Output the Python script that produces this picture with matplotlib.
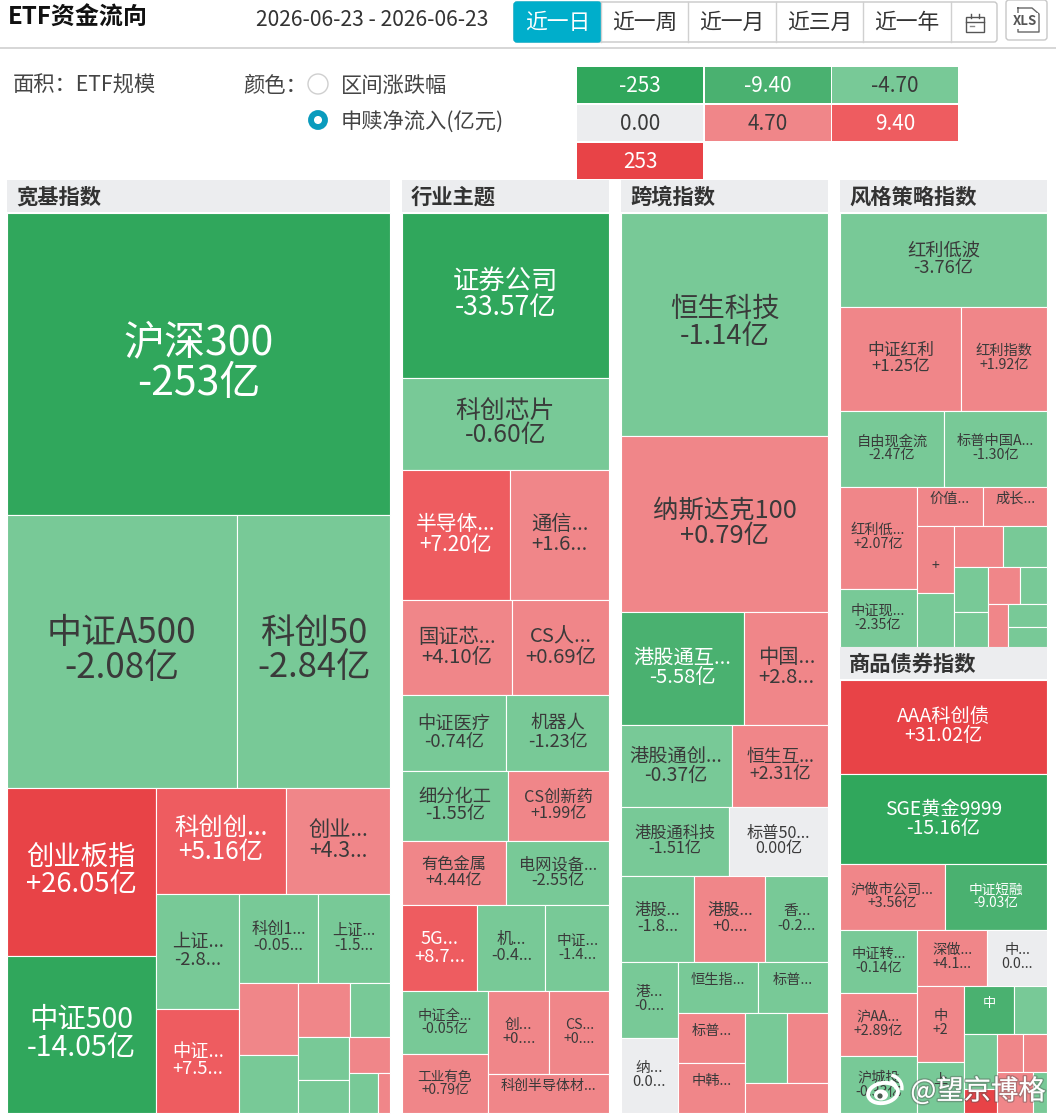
import numpy as np
import matplotlib
matplotlib.use('Agg')
import matplotlib.pyplot as plt
import matplotlib.patheffects as pe
from matplotlib.patches import Rectangle, FancyBboxPatch, Circle, Ellipse, Arc

plt.rcParams['font.family'] = ['Noto Sans CJK SC', 'DejaVu Sans']

# Legend bins (亿元) and their colours
legend_values = [-253, -9.40, -4.70, 0.00, 4.70, 9.40, 253]
legend_labels = ['-253', '-9.40', '-4.70', '0.00', '4.70', '9.40', '253']
legend_colors = ['#30a75c', '#4ab170', '#78c997', '#ecedef', '#f08689', '#ee5c60', '#e84347']

# 宽基指数
kuanji_names = ['沪深300', '中证A500', '科创50', '创业板指', '中证500', '科创创...', '创业...', '上证...', '中证...',
                '科创1...', '上证...', '', '', '', '', '', '', '', '', '']
kuanji_scale = [1159, 626, 416, 251, 235, 138, 111, 95, 87, 69, 64, 42, 34, 28, 22, 22, 17, 15, 12, 5]
kuanji_flow = [-253, -2.08, -2.84, 26.05, -14.05, 5.16, 4.31, -2.83, 7.52, -0.05, -1.52,
               1.2, -0.8, 1.1, -0.6, -0.5, -0.4, 0.9, -0.3, 0.2]
kuanji_text = ['-253亿', '-2.08亿', '-2.84亿', '+26.05亿', '-14.05亿', '+5.16亿', '+4.3...', '-2.8...', '+7.5...',
               '-0.05...', '-1.5...', '', '', '', '', '', '', '', '', '']
kuanji_rows = [1, 2, 2, 2, 2, 2, 2, 2, 2, 1, 1, 1]
kuanji_font = [40.5, 34.5, 34, 27, 28, 24, 21, 18, 18, 16, 15, 0, 0, 0, 0, 0, 0, 0, 0, 0]

# 行业主题
hangye_names = ['证券公司', '科创芯片', '半导体...', '通信...', '国证芯...', 'CS人...', '中证医疗', '机器人', '细分化工',
                'CS创新药', '有色金属', '电网设备...', '5G...', '机...', '中证...', '中证全...', '工业有色', '创...',
                'CS...', '科创半导体材...']
hangye_scale = [341, 190, 141, 129, 104, 92, 79, 78, 74, 70, 67, 66, 65, 58, 55, 54, 51, 50, 49, 48]
hangye_flow = [-33.57, -0.60, 7.20, 1.63, 4.10, 0.69, -0.74, -1.23, -1.55, 1.99, 4.44, -2.55, 8.72, -0.42, -1.44,
               -0.05, 0.79, 0.31, 0.27, 0.55]
hangye_text = ['-33.57亿', '-0.60亿', '+7.20亿', '+1.6...', '+4.10亿', '+0.69亿', '-0.74亿', '-1.23亿', '-1.55亿',
               '+1.99亿', '+4.44亿', '-2.55亿', '+8.7...', '-0.4...', '-1.4...', '-0.05亿', '+0.79亿', '+0....',
               '+0....', '']
hangye_rows = [1, 1, 2, 2, 2, 2, 2, 3, 2, 2, 1]
hangye_font = [26, 24.5, 20.5, 20, 20, 20, 18, 18, 18, 16, 16, 16, 18, 16, 14.5, 14, 13.5, 14.5, 14, 13.8]

# 跨境指数
kuajing_names = ['恒生科技', '纳斯达克100', '港股通互...', '中国...', '港股通创...', '恒生互...', '港股通科技', '标普50...',
                 '港股...', '港股...', '香...', '港...', '纳...', '恒生指...', '标普...', '标普...', '中韩...', '', '', '']
kuajing_scale = [462, 365, 139, 95, 91, 79, 74, 68, 63, 61, 54, 43, 43, 41, 36, 34, 34, 29, 29, 25]
kuajing_flow = [-1.14, 0.79, -5.58, 2.83, -0.37, 2.31, -1.51, 0.00, -1.84, 0.36, -0.25, -0.41, 0.00, -0.66, -0.32,
                0.48, 0.22, -0.2, 0.3, 0.1]
kuajing_text = ['-1.14亿', '+0.79亿', '-5.58亿', '+2.8...', '-0.37亿', '+2.31亿', '-1.51亿', '0.00亿', '-1.8...',
                '+0....', '-0.2...', '-0....', '0.0...', '', '', '', '', '', '', '']
kuajing_rows = [1, 1, 2, 2, 2, 3, 2, 2, 2, 2, 1]
kuajing_font = [27, 25, 20, 20, 19, 17.5, 16, 16, 16, 16, 14.5, 14.5, 14.5, 14, 14, 14, 14, 0, 0, 0]

# 风格策略指数
fengge_names = ['红利低波', '中证红利', '红利指数', '自由现金流', '标普中国A...', '红利低...', '中证现...', '价值...', '成长...',
                '', '', '', '', '', '', '', '', '', '', '']
fengge_scale = [195, 126, 89, 79, 78, 78, 45, 26, 25, 25, 20, 20, 18, 15, 12, 12, 10, 9, 9, 8]
fengge_flow = [-3.76, 1.25, 1.92, -2.47, -1.30, 2.07, -2.35, 0.62, 0.51, 0.44, -0.3, 0.35, -0.4, -0.2, -0.2, 0.15,
               -0.1, 0.12, -0.1, -0.1]
fengge_text = ['-3.76亿', '+1.25亿', '+1.92亿', '-2.47亿', '-1.30亿', '+2.07亿', '-2.35亿', '', '', '+', '', '', '', '',
               '', '', '', '', '', '']
fengge_rows = [1, 2, 2, 2, 2, 2, 2, 2, 2, 1, 1, 1]
fengge_font = [18, 16.5, 14, 14, 14, 14, 14, 14, 14, 14, 0, 0, 0, 0, 0, 0, 0, 0, 0, 0]

# 商品债券指数
shangpin_names = ['AAA科创债', 'SGE黄金9999', '沪做市公司...', '中证短融', '中证转...', '沪AA...', '沪城投', '深做...', '中...',
                  '中', '上', '中', '', '', '', '', '', '', '']
shangpin_scale = [196, 185, 69, 67, 49, 49, 44, 39, 34, 35, 24, 24, 16, 18, 8, 10, 9, 15, 6]
shangpin_flow = [31.02, -15.16, 3.56, -9.03, -0.14, 2.89, -0.33, 4.12, 0.00, 2.35, -0.2, -5.1, -0.6, -0.4, 10.2,
                 0.5, 0.4, 0.7, -0.1]
shangpin_text = ['+31.02亿', '-15.16亿', '+3.56亿', '-9.03亿', '-0.14亿', '+2.89亿', '-0.33亿', '+4.1...', '0.0...',
                 '+2', '-', '', '', '', '', '', '', '', '']
shangpin_rows = [1, 1, 2, 3, 2, 2, 2, 2, 2, 1, 1]
shangpin_font = [19, 19, 14, 13.5, 14, 14, 14, 14, 14, 14, 14, 13, 0, 0, 0, 0, 0, 0, 0]

tabs = ['近一日', '近一周', '近一月', '近三月', '近一年']


def squarify(sizes, rows, x, y, w, h):
    # lays the values out strip by strip along the shorter side of what is left
    k = w * h / sum(sizes)
    rects = []
    i = 0
    for n in rows:
        part = sizes[i:i + n]
        area = sum(part) * k
        if w <= h:
            rh = area / w
            px_ = x
            for s in part:
                rects.append((px_, y, s * k / rh, rh))
                px_ += s * k / rh
            y += rh
            h -= rh
        else:
            rw = area / h
            py = y
            for s in part:
                rects.append((x, py, rw, s * k / rw))
                py += s * k / rw
            x += rw
            w -= rw
        i += n
    return rects


def bin_index(v):
    idx = int(np.searchsorted(legend_values, v, side='left'))
    if v < 0:
        idx -= 1
    return min(max(idx, 0), 6)


def ink(idx):
    return 'white' if idx in (0, 1, 5, 6) else '#3a3a3a'


def draw_section(title, x, y, w, h, names, sizes, flows, texts, rows, fonts):
    ax.add_patch(Rectangle((x, y - 33), w, 32, fc='#ecedef', ec='none'))
    ax.text(x + 9, y - 16, title, fontsize=21 * px, fontweight='bold', color='#333333', va='center', ha='left')
    # grow by the half border so the outer white edge falls outside the block
    rects = squarify(sizes, rows, x - 0.4, y - 0.4, w + 0.8, h + 0.8)
    for r, name, v, txt, f in zip(rects, names, flows, texts, fonts):
        c = bin_index(v)
        ax.add_patch(Rectangle((r[0], r[1]), r[2], r[3], fc=legend_colors[c], ec='white', lw=0.8))
        if f == 0:
            continue
        cx = r[0] + r[2] / 2
        cy = r[1] + r[3] / 2 - f * 0.03
        gap = f * 1.0
        ax.text(cx, cy - gap / 2, name, fontsize=f * px, color=ink(c), ha='center', va='center')
        if txt:
            ax.text(cx, cy + gap / 2, txt, fontsize=f * px, color=ink(c), ha='center', va='center')


px = 0.73  # pixels to points at dpi 100, a bit over 0.72 for the wider web font

fig = plt.figure(figsize=(10.56, 11.16), dpi=100)
ax = fig.add_axes([0, 0, 1, 1])
ax.set_xlim(0, 1056)
ax.set_ylim(1116, 0)
ax.axis('off')

# top bar
ax.text(8, 18, 'ETF资金流向', fontsize=23.7 * px, fontweight='bold', color='#111111', va='center')
ax.text(372, 20, '2026-06-23 - 2026-06-23', fontsize=20.8 * px, color='#333333', va='center', ha='center')
ax.add_patch(FancyBboxPatch((514, 2), 483, 40, boxstyle='round,pad=0,rounding_size=3', fc='white', ec='#c8c8c8', lw=1))
ax.add_patch(FancyBboxPatch((514, 2), 87, 40, boxstyle='round,pad=0,rounding_size=3', fc='#00aecb', ec='#00aecb', lw=1))
tab_edges = [514, 601, 688, 776, 863, 951, 997]
for i, t in enumerate(tabs):
    ax.text((tab_edges[i] + tab_edges[i + 1]) / 2, 23, t, fontsize=21.5 * px, color='white' if i == 0 else '#333333',
            ha='center', va='center')
    if i > 0:
        ax.plot([tab_edges[i], tab_edges[i]], [2, 42], color='#d0d0d0', lw=1)
ax.plot([951, 951], [2, 42], color='#d0d0d0', lw=1)

# calendar button
ax.add_patch(Rectangle((966, 17), 18, 15, fc='none', ec='#555555', lw=1))
ax.plot([966, 984], [22, 22], color='#555555', lw=1)
ax.plot([971, 971], [14, 18], color='#555555', lw=1)
ax.plot([979, 979], [14, 18], color='#555555', lw=1)
ax.plot([970, 974], [26, 26], color='#888888', lw=1)

# xls button
ax.add_patch(FancyBboxPatch((1006, 0), 41, 40, boxstyle='round,pad=0,rounding_size=3', fc='white', ec='#c8c8c8', lw=1))
ax.plot([1018, 1032, 1039, 1039, 1018, 1018], [8, 8, 14, 32, 32, 8], color='#666666', lw=1)
ax.text(1025, 21, 'XLS', fontsize=13 * px, fontweight='bold', color='#555555', ha='center', va='center',
        bbox=dict(fc='white', ec='none', pad=0.8))
ax.plot([0, 1056], [47.5, 47.5], color='#cfcfcf', lw=1.2)

# filter row
ax.text(13, 86, '面积：ETF规模', fontsize=21 * px, color='#444444', va='center')
ax.text(243, 86, '颜色：', fontsize=21 * px, color='#444444', va='center')
ax.add_patch(Circle((318, 84), 10, fc='white', ec='#cfcfcf', lw=1))
ax.text(341, 86, '区间涨跌幅', fontsize=21 * px, color='#444444', va='center')
ax.add_patch(Circle((318, 120), 7, fc='white', ec='#0a9bbd', lw=4.2))
ax.text(341, 122.5, '申赎净流入(亿元)', fontsize=21 * px, color='#444444', va='center')

# colour legend, three swatches per row
for i, (lab, col) in enumerate(zip(legend_labels, legend_colors)):
    sx = 577 + (i % 3) * 127.5
    sy = 67 + (i // 3) * 38
    ax.add_patch(Rectangle((sx, sy), 126, 36, fc=col, ec='none'))
    ax.text(sx + 63, sy + 19, lab, fontsize=20.5 * px, color=ink(i), ha='center', va='center')

draw_section('宽基指数', 7, 213, 383, 900, kuanji_names, kuanji_scale, kuanji_flow, kuanji_text, kuanji_rows, kuanji_font)
draw_section('行业主题', 402, 213, 207, 900, hangye_names, hangye_scale, hangye_flow, hangye_text, hangye_rows, hangye_font)
draw_section('跨境指数', 621, 213, 207, 900, kuajing_names, kuajing_scale, kuajing_flow, kuajing_text, kuajing_rows, kuajing_font)
draw_section('风格策略指数', 840, 213, 207, 434, fengge_names, fengge_scale, fengge_flow, fengge_text, fengge_rows, fengge_font)
draw_section('商品债券指数', 840, 680, 207, 433, shangpin_names, shangpin_scale, shangpin_flow, shangpin_text, shangpin_rows, shangpin_font)

# weibo watermark, above the cell labels
shadow = [pe.withStroke(linewidth=2, foreground='#55555566')]
ax.text(978, 1091, '@望京博格', fontsize=27 * px, color='white', ha='center', va='center', path_effects=shadow, zorder=6)
ax.add_patch(Ellipse((883, 1093), 30, 20, fc='none', ec='white', lw=2.8, angle=-10, zorder=6))
ax.add_patch(Ellipse((881, 1095), 14, 11, fc='white', ec='none', zorder=6))
ax.add_patch(Circle((880, 1096), 2.6, fc='#4a5a4f', ec='none', zorder=7))
ax.add_patch(Arc((889, 1088), 26, 26, theta1=-80, theta2=10, color='white', lw=2.4, zorder=6))
ax.add_patch(Arc((889, 1088), 14, 14, theta1=-80, theta2=10, color='white', lw=2.2, zorder=6))

fig.savefig('out.png', dpi=100)
